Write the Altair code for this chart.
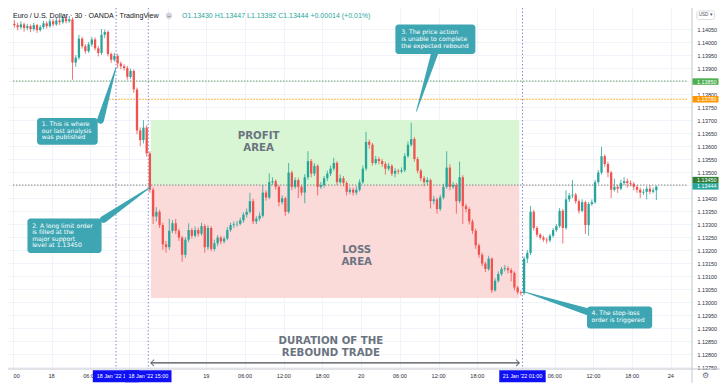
import altair as alt
import pandas as pd

# ---------------- layout ----------------
W, H = 684, 361          # plot area
RA, BA = 28, 14          # right price axis, bottom time axis

T_MIN, T_MAX = -5.97, 98.5          # hours from 18 Jan '22 00:00 (trading time)
P_MIN, P_MAX = 1.127425, 1.14131

FONT = "Liberation Sans"
CFONT = "DejaVu Sans"
GREEN = "#26a69a"
RED = "#ef5350"
GRID = "#f0f3fa"
TEAL = "#3ea6b3"
PROFIT = "#d8f6d3"
LOSS = "#fbdada"
BIGTXT = "#6b7380"

# ---------------- data ----------------
first_open = 1.14070
start_hour = -6.0     # first 30-min bar opens 17 Jan 18:00
bar_hours = 0.5

close = [
    1.14065, 1.14057, 1.14068, 1.14054, 1.14061, 1.14050, 1.14065, 1.14046, 1.14057, 1.14072,
    1.14061, 1.14080, 1.14068, 1.14083, 1.14076, 1.14091, 1.14080, 1.14087, 1.13921, 1.13940,
    1.14013, 1.13984, 1.13965, 1.13991, 1.14010, 1.13976, 1.13958, 1.14028, 1.14039, 1.13954,
    1.13932, 1.13947, 1.13918, 1.13907, 1.13900, 1.13866, 1.13889, 1.13818, 1.13660, 1.13623,
    1.13671, 1.13572, 1.13432, 1.13329, 1.13347, 1.13296, 1.13222, 1.13211, 1.13274, 1.13303,
    1.13274, 1.13248, 1.13182, 1.13240, 1.13277, 1.13255, 1.13277, 1.13263, 1.13292, 1.13211,
    1.13285, 1.13204, 1.13226, 1.13248, 1.13233, 1.13244, 1.13277, 1.13296, 1.13299, 1.13301,
    1.13314, 1.13336, 1.13347, 1.13388, 1.13310, 1.13321, 1.13332, 1.13421, 1.13402, 1.13461,
    1.13465, 1.13443, 1.13384, 1.13399, 1.13347, 1.13498, 1.13443, 1.13469, 1.13443, 1.13421,
    1.13480, 1.13542, 1.13494, 1.13524, 1.13443, 1.13450, 1.13476, 1.13494, 1.13513, 1.13535,
    1.13461, 1.13476, 1.13458, 1.13424, 1.13432, 1.13421, 1.13432, 1.13461, 1.13513, 1.13616,
    1.13605, 1.13535, 1.13550, 1.13542, 1.13531, 1.13513, 1.13524, 1.13494, 1.13505, 1.13502,
    1.13507, 1.13561, 1.13605, 1.13627, 1.13550, 1.13505, 1.13476, 1.13461, 1.13469, 1.13388,
    1.13395, 1.13358, 1.13402, 1.13443, 1.13517, 1.13443, 1.13450, 1.13388, 1.13480, 1.13369,
    1.13358, 1.13310, 1.13274, 1.13218, 1.13182, 1.13148, 1.13127, 1.13167, 1.13045, 1.13082,
    1.13108, 1.13127, 1.13130, 1.13123, 1.13112, 1.13056, 1.13038, 1.13034, 1.13167, 1.13189,
    1.13347, 1.13285, 1.13259, 1.13248, 1.13240, 1.13237, 1.13255, 1.13277, 1.13292, 1.13351,
    1.13285, 1.13395, 1.13410, 1.13413, 1.13388, 1.13351, 1.13384, 1.13296, 1.13377, 1.13384,
    1.13461, 1.13498, 1.13561, 1.13531, 1.13498, 1.13432, 1.13443, 1.13436, 1.13458, 1.13465,
    1.13458, 1.13455, 1.13443, 1.13432, 1.13421, 1.13424, 1.13436, 1.13424, 1.13430, 1.13444,
]
high = [
    1.14085, 1.14075, 1.14080, 1.14075, 1.14070, 1.14068, 1.14075, 1.14070, 1.14066, 1.14082,
    1.14080, 1.14090, 1.14088, 1.14095, 1.14092, 1.14102, 1.14098, 1.14100, 1.14095, 1.13950,
    1.14028, 1.14020, 1.13992, 1.14000, 1.14020, 1.14018, 1.13985, 1.14050, 1.14048, 1.14045,
    1.13960, 1.13958, 1.13955, 1.13925, 1.13915, 1.13908, 1.13898, 1.13895, 1.13825, 1.13672,
    1.13700, 1.13680, 1.13580, 1.13440, 1.13365, 1.13355, 1.13305, 1.13235, 1.13320, 1.13315,
    1.13320, 1.13282, 1.13255, 1.13250, 1.13303, 1.13285, 1.13290, 1.13286, 1.13305, 1.13300,
    1.13295, 1.13292, 1.13240, 1.13258, 1.13255, 1.13252, 1.13288, 1.13305, 1.13310, 1.13312,
    1.13325, 1.13345, 1.13360, 1.13420, 1.13398, 1.13330, 1.13345, 1.13450, 1.13430, 1.13495,
    1.13480, 1.13472, 1.13450, 1.13410, 1.13405, 1.13535, 1.13505, 1.13480, 1.13478, 1.13450,
    1.13492, 1.13580, 1.13550, 1.13535, 1.13530, 1.13462, 1.13485, 1.13505, 1.13525, 1.13555,
    1.13542, 1.13490, 1.13485, 1.13465, 1.13442, 1.13440, 1.13445, 1.13472, 1.13525, 1.13655,
    1.13625, 1.13612, 1.13562, 1.13558, 1.13550, 1.13540, 1.13535, 1.13530, 1.13515, 1.13512,
    1.13518, 1.13572, 1.13618, 1.13690, 1.13635, 1.13558, 1.13512, 1.13485, 1.13480, 1.13475,
    1.13408, 1.13402, 1.13412, 1.13455, 1.13580, 1.13530, 1.13462, 1.13458, 1.13540, 1.13488,
    1.13378, 1.13365, 1.13318, 1.13282, 1.13225, 1.13190, 1.13155, 1.13178, 1.13172, 1.13092,
    1.13118, 1.13135, 1.13142, 1.13138, 1.13130, 1.13118, 1.13062, 1.13045, 1.13175, 1.13200,
    1.13370, 1.13355, 1.13292, 1.13265, 1.13255, 1.13248, 1.13262, 1.13285, 1.13300, 1.13362,
    1.13358, 1.13430, 1.13420, 1.13470, 1.13420, 1.13395, 1.13395, 1.13390, 1.13385, 1.13395,
    1.13470, 1.13508, 1.13597, 1.13568, 1.13540, 1.13505, 1.13475, 1.13452, 1.13470, 1.13480,
    1.13475, 1.13468, 1.13462, 1.13450, 1.13440, 1.13435, 1.13445, 1.13450, 1.13440, 1.13447,
]
low = [
    1.14055, 1.14045, 1.14050, 1.14040, 1.14045, 1.14038, 1.14042, 1.14035, 1.14040, 1.14050,
    1.14052, 1.14055, 1.14060, 1.14062, 1.14066, 1.14070, 1.14072, 1.14074, 1.13855, 1.13905,
    1.13932, 1.13975, 1.13955, 1.13958, 1.13982, 1.13968, 1.13945, 1.13950, 1.14015, 1.13945,
    1.13920, 1.13925, 1.13900, 1.13895, 1.13890, 1.13855, 1.13858, 1.13805, 1.13645, 1.13600,
    1.13610, 1.13560, 1.13420, 1.13300, 1.13310, 1.13285, 1.13200, 1.13190, 1.13200, 1.13265,
    1.13262, 1.13235, 1.13155, 1.13170, 1.13230, 1.13245, 1.13248, 1.13252, 1.13255, 1.13190,
    1.13200, 1.13195, 1.13195, 1.13215, 1.13222, 1.13225, 1.13238, 1.13270, 1.13285, 1.13290,
    1.13295, 1.13305, 1.13325, 1.13340, 1.13300, 1.13300, 1.13312, 1.13325, 1.13390, 1.13395,
    1.13450, 1.13432, 1.13368, 1.13375, 1.13332, 1.13340, 1.13430, 1.13435, 1.13400, 1.13410,
    1.13380, 1.13470, 1.13480, 1.13485, 1.13410, 1.13435, 1.13440, 1.13465, 1.13485, 1.13505,
    1.13450, 1.13455, 1.13445, 1.13410, 1.13415, 1.13410, 1.13412, 1.13425, 1.13455, 1.13505,
    1.13590, 1.13525, 1.13528, 1.13530, 1.13520, 1.13490, 1.13505, 1.13485, 1.13480, 1.13492,
    1.13495, 1.13500, 1.13555, 1.13598, 1.13540, 1.13495, 1.13465, 1.13445, 1.13450, 1.13360,
    1.13375, 1.13340, 1.13350, 1.13395, 1.13435, 1.13430, 1.13435, 1.13340, 1.13380, 1.13300,
    1.13345, 1.13298, 1.13262, 1.13205, 1.13170, 1.13138, 1.13115, 1.13120, 1.13035, 1.13040,
    1.13075, 1.13100, 1.13118, 1.13110, 1.13080, 1.13045, 1.13030, 1.13025, 1.13028, 1.13150,
    1.13180, 1.13275, 1.13250, 1.13240, 1.13232, 1.13225, 1.13230, 1.13248, 1.13270, 1.13285,
    1.13225, 1.13278, 1.13385, 1.13400, 1.13378, 1.13340, 1.13345, 1.13262, 1.13255, 1.13370,
    1.13378, 1.13455, 1.13490, 1.13520, 1.13480, 1.13400, 1.13425, 1.13420, 1.13430, 1.13450,
    1.13440, 1.13445, 1.13430, 1.13420, 1.13400, 1.13412, 1.13395, 1.13415, 1.13418, 1.13392,
]

price_ticks = [1.12750, 1.12800, 1.12850, 1.12900, 1.12950, 1.13000, 1.13050, 1.13100, 1.13150,
               1.13200, 1.13250, 1.13300, 1.13350, 1.13400, 1.13450, 1.13500, 1.13550, 1.13600,
               1.13650, 1.13700, 1.13750, 1.13800, 1.13850, 1.13900, 1.13950, 1.14000, 1.14050]
time_grid = [-6, 0, 6, 12, 18, 24, 30, 36, 42, 48, 54, 60, 66, 72, 78, 84, 90, 96]
# visible time-axis labels (the ones under the highlighted boxes are hidden in the original)
label_times = [-5.4, 0, 6, 24, 30, 36, 42, 48, 54, 60, 66, 78, 84, 90, 96]
label_texts = ["00", "18", "06:00", "19", "06:00", "12:00", "18:00", "20",
               "06:00", "12:00", "18:00", "06:00", "12:00", "18:00", "24"]

marked_times = [10, 15, 73]
box_times = [10, 15, 73]
box_texts = ["18 Jan '22  1", "18 Jan '22   15:00", "21 Jan '22   01:00"]
box_text_x = [7.0, 15, 73]
box_text_align = ["left", "center", "center"]

tag_prices = [1.13848, 1.13780, 1.13469, 1.13445]
tag_texts = ["1.13850", "1.13780", "1.13450", "1.13444"]
tag_colors = ["#4caf50", "#ff9800", "#2e7d32", GREEN]

entry_price, target_price, stop_price = 1.13450, 1.13700, 1.13016
trade_start, trade_end = 15.4, 72.5

# ---------------- frames ----------------
n = len(close)
opens = [first_open] + close[:-1]
candles = pd.DataFrame({
    "t": [start_hour + bar_hours * (i + 0.5) for i in range(n)],
    "o": opens, "h": high, "l": low, "c": close,
})

xscale = alt.Scale(domain=[T_MIN, T_MAX], nice=False, zero=False)
yscale = alt.Scale(domain=[P_MIN, P_MAX], nice=False, zero=False)
X_AXIS = alt.Axis(values=time_grid, grid=True, gridColor=GRID, labels=False, ticks=False,
                  domain=False, title=None)
Y_AXIS = alt.Axis(orient="right", values=price_ticks, format=".5f", labelFont=FONT,
                  labelFontSize=5.4, labelColor="#2a2e39", labelPadding=5, ticks=False,
                  domain=False, grid=True, gridColor=GRID, title=None, labelOverlap=False,
                  labelFlush=False)


def X(f):
    return alt.X(f, type="quantitative", scale=xscale, axis=X_AXIS)


def Y(f):
    return alt.Y(f, type="quantitative", scale=yscale, axis=Y_AXIS)


layers = []

# profit / loss areas
areas = pd.DataFrame({"t1": [trade_start, trade_start], "t2": [trade_end, trade_end],
                      "p1": [entry_price, stop_price], "p2": [target_price, entry_price],
                      "fill": [PROFIT, LOSS]})
layers.append(alt.Chart(areas).mark_rect().encode(
    x=X("t1"), x2="t2", y=Y("p1"), y2="p2", color=alt.Color("fill", scale=None)))

# horizontal dotted levels
levels = pd.DataFrame({"p": [1.13850, 1.13780, 1.13450],
                       "t1": [T_MIN, 8.96, T_MIN], "t2": [T_MAX, T_MAX, T_MAX],
                       "col": ["#5f9a62", "#ff9800", "#7a7f7a"]})
layers.append(alt.Chart(levels).mark_rule(strokeDash=[1.4, 1.6], strokeWidth=1).encode(
    x=X("t1"), x2="t2", y=Y("p"), color=alt.Color("col", scale=None)))

# vertical dotted markers
vlines = pd.DataFrame({"t": marked_times})
layers.append(alt.Chart(vlines).mark_rule(strokeDash=[1.5, 2], strokeWidth=1, color="#8a8ad6").encode(
    x=X("t"), y=alt.value(0), y2=alt.value(H)))

# candles
col = alt.condition("datum.c >= datum.o", alt.value(GREEN), alt.value(RED))
layers.append(alt.Chart(candles).mark_rule(strokeWidth=0.8).encode(
    x=X("t"), y=Y("l"), y2="h", color=col))
layers.append(alt.Chart(candles).mark_bar(size=2.3).encode(
    x=X("t"), y=Y("o"), y2="c", color=col))

# big labels
big = pd.DataFrame({"t": [32.1, 47.3, 43.3], "p": [1.13638, 1.13200, 1.12850],
                    "txt": ["PROFIT\nAREA", "LOSS\nAREA", "DURATION OF THE\nREBOUND TRADE"]})
layers.append(alt.Chart(big).mark_text(font=CFONT, fontSize=10.2, fontWeight="bold",
                                       color=BIGTXT, lineBreak="\n", lineHeight=12.3,
                                       align="center", baseline="middle").encode(
    x=X("t"), y=Y("p"), text="txt"))

# duration arrow
arrow_p = 1.12766
layers.append(alt.Chart(pd.DataFrame({"t1": [trade_start], "t2": [trade_end], "p": [arrow_p]}))
              .mark_rule(color="#4a4d55", strokeWidth=1.1).encode(x=X("t1"), x2="t2", y=Y("p")))
heads = pd.DataFrame({"t": [trade_start, trade_end], "p": [arrow_p, arrow_p],
                      "s": ["M1,-1L0,0L1,1", "M-1,-1L0,0L-1,1"]})
layers.append(alt.Chart(heads).mark_point(filled=False, strokeWidth=1.1, size=40, color="#4a4d55").encode(
    x=X("t"), y=Y("p"), shape=alt.Shape("s", scale=None, legend=None)))

# callout pointers
ptr = pd.DataFrame({
    "id": [1, 1, 2, 2, 3, 3, 4, 4],
    "ord": [0, 1, 0, 1, 0, 1, 0, 1],
    "t": [10.0, 7.6, 15.37, 8.06, 56.57, 59.4, 73.43, 83.28],
    "p": [1.13903, 1.13700, 1.13443, 1.13318, 1.13734, 1.13958, 1.13038, 1.12961],
    "w": [0.8, 7, 0.8, 7, 0.8, 7, 0.8, 7],
})
layers.append(alt.Chart(ptr).mark_trail(color=TEAL).encode(
    x=X("t"), y=Y("p"), size=alt.Size("w", type="quantitative", scale=None, legend=None),
    detail="id:N", order="ord:Q"))

# callout boxes
boxes = pd.DataFrame({
    "t1": [-2.24, -3.73, 53.3, 83.0], "t2": [7.16, 7.76, 65.7, 93.1],
    "p1": [1.13708, 1.13321, 1.14068, 1.12983], "p2": [1.13605, 1.13189, 1.13954, 1.12898],
    "tx": [-1.5, -3.0, 54.2, 83.7], "py": [1.13684, 1.13294, 1.14037, 1.12957],
    "txt": ["1. This is where\nour last analysis\nwas published",
            "2. A long limit order\nis filled at the\nmajor support\nlevel at 1.13450",
            "3. The price action\nis unable to complete\nthe expected rebound",
            "4. The stop-loss\norder is triggered"],
})
layers.append(alt.Chart(boxes).mark_rect(cornerRadius=3, color=TEAL).encode(
    x=X("t1"), x2="t2", y=Y("p1"), y2="p2"))
layers.append(alt.Chart(boxes).mark_text(font=CFONT, fontSize=6.1, color="white", align="left",
                                         baseline="middle", lineBreak="\n", lineHeight=6.6).encode(
    x=X("tx"), y=Y("py"), text="txt"))

# header
layers.append(alt.Chart(pd.DataFrame({"txt": ["Euro / U.S. Dollar · 30 · OANDA · TradingView"]}))
              .mark_text(font=FONT, fontSize=7.1, color="#131722", align="left", baseline="middle")
              .encode(x=alt.value(4.9), y=alt.value(7.7), text="txt"))
layers.append(alt.Chart(pd.DataFrame({"a": [1]})).mark_point(filled=True, size=38, color="#d1d4dc", opacity=1)
              .encode(x=alt.value(161), y=alt.value(7.7)))
layers.append(alt.Chart(pd.DataFrame({"txt": ["−"]})).mark_text(font=FONT, fontSize=6, color="#50535e")
              .encode(x=alt.value(161), y=alt.value(7.9), text="txt"))
layers.append(alt.Chart(pd.DataFrame({"txt": ["O1.13430 H1.13447 L1.13392 C1.13444 +0.00014 (+0.01%)"]}))
              .mark_text(font=FONT, fontSize=7.0, color=GREEN, align="left", baseline="middle")
              .encode(x=alt.value(174), y=alt.value(7.7), text="txt"))

# axis borders
layers.append(alt.Chart(pd.DataFrame({"a": [1]})).mark_rule(color="#c3c6ce", strokeWidth=1).encode(
    x=alt.value(0), x2=alt.value(W + RA), y=alt.value(H)))
layers.append(alt.Chart(pd.DataFrame({"a": [1]})).mark_rule(color="#c3c6ce", strokeWidth=1).encode(
    x=alt.value(W), y=alt.value(0), y2=alt.value(H + BA)))

# price tags
tags = pd.DataFrame({"p": tag_prices, "txt": tag_texts, "col": tag_colors})
layers.append(alt.Chart(tags).transform_calculate(pt="datum.p + 0.000125", pb="datum.p - 0.000125")
              .mark_rect().encode(x=alt.value(W + 0.5), x2=alt.value(W + 26.5), y=Y("pt"), y2="pb",
                                  color=alt.Color("col", scale=None)))
layers.append(alt.Chart(tags).mark_text(font=FONT, fontSize=5.4, color="white", align="left",
                                        baseline="middle").encode(
    x=alt.value(W + 5), y=Y("p"), text="txt"))

# time labels
tl = pd.DataFrame({"t": label_times, "txt": label_texts})
layers.append(alt.Chart(tl).mark_text(font=FONT, fontSize=5.6, color="#2a2e39", baseline="middle").encode(
    x=X("t"), y=alt.value(H + 7.3), text="txt"))

# highlighted time boxes
for tm, lab, tx, al in zip(box_times, box_texts, box_text_x, box_text_align):
    d = pd.DataFrame({"t": [tm], "tx": [tx], "txt": [lab]})
    layers.append(alt.Chart(d).transform_calculate(ta="datum.t - 3.6", tb="datum.t + 3.6")
                  .mark_rect(color="#1010f5").encode(x=X("ta"), x2="tb", y=alt.value(H + 1.3),
                                                     y2=alt.value(H + 13.2)))
    layers.append(alt.Chart(d).mark_text(font=FONT, fontSize=5.4, color="white", baseline="middle",
                                         align=al)
                  .encode(x=X("tx"), y=alt.value(H + 7.3), text="txt"))

# USD box and settings icon
layers.append(alt.Chart(pd.DataFrame({"a": [1]})).mark_rect(cornerRadius=2, fill="white", stroke="#d1d4dc",
                                                            strokeWidth=0.8)
              .encode(x=alt.value(W + 4.9), x2=alt.value(W + 22.5), y=alt.value(2.9), y2=alt.value(11.5)))
layers.append(alt.Chart(pd.DataFrame({"txt": ["USD ▾"]})).mark_text(font=FONT, fontSize=4.6, color="#50535e",
                                                                   baseline="middle")
              .encode(x=alt.value(W + 13.7), y=alt.value(7.3), text="txt"))
layers.append(alt.Chart(pd.DataFrame({"txt": ["⚙"]})).mark_text(font="DejaVu Sans", fontSize=8, color="#6a6d78",
                                                               baseline="middle")
              .encode(x=alt.value(W + 13.5), y=alt.value(H + 7.3), text="txt"))

chart = alt.layer(*layers).properties(
    width=W, height=H,
    padding={"left": 0, "top": 0, "right": RA, "bottom": BA},
    autosize=alt.AutoSizeParams(type="none"),
    background="white",
).configure_view(stroke=None)

chart.save("out.html", embed_options={"renderer": "svg", "actions": False})
